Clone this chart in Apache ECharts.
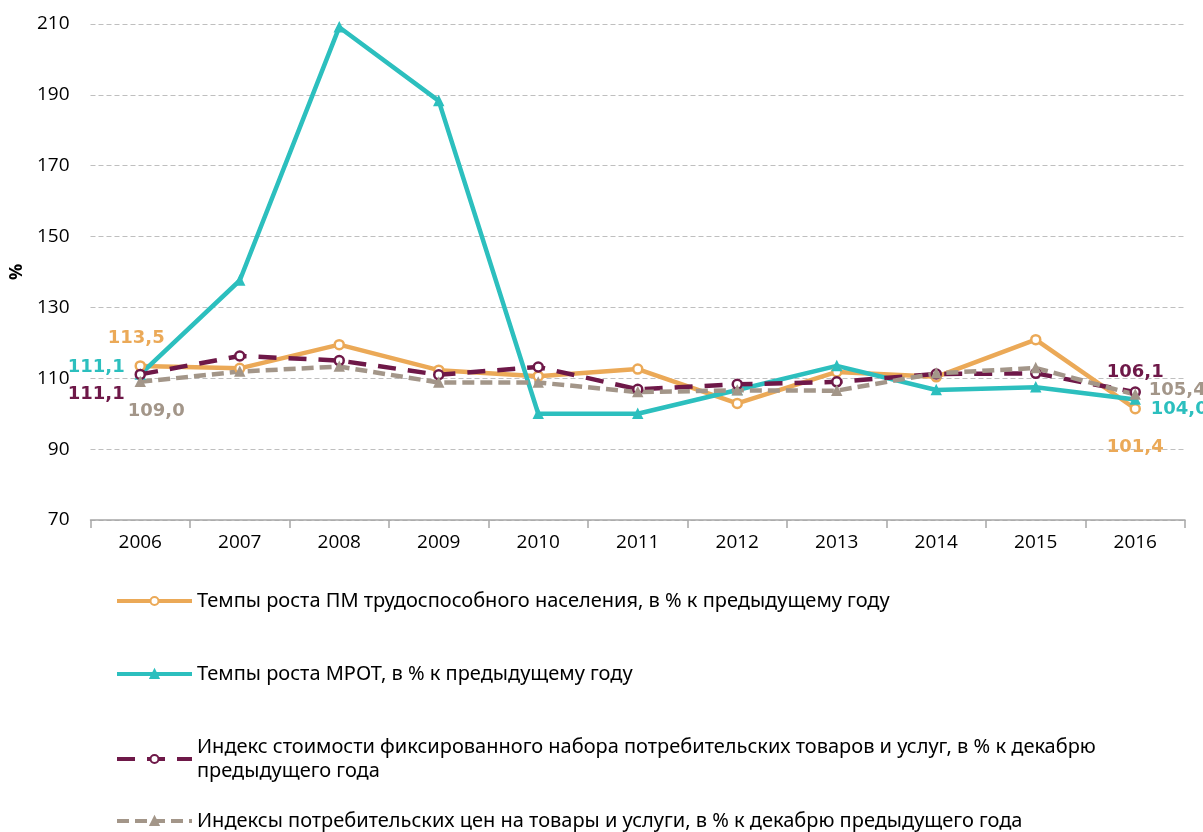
<!DOCTYPE html>
<html>
<head>
<meta charset="utf-8">
<script src="https://cdn.jsdelivr.net/npm/echarts@6/dist/echarts.min.js"></script>
<style>
  html, body { margin: 0; padding: 0; background: #fff; }
  #echarts { width: 1203px; height: 832px; }
</style>
</head>
<body>
<div id="echarts"></div>
<script>
var years = ['2006', '2007', '2008', '2009', '2010', '2011', '2012', '2013', '2014', '2015', '2016'];
var pmGrowth = [113.5, 112.8, 119.5, 112.3, 110.6, 112.6, 102.9, 111.8, 110.4, 120.9, 101.4];
var mrotGrowth = [111.1, 137.6, 209.1, 188.3, 100.0, 100.0, 106.7, 113.5, 106.7, 107.5, 104.0];
var basketIndex = [111.1, 116.3, 115.0, 111.0, 113.2, 106.9, 108.3, 109.0, 111.2, 111.4, 106.1];
var cpiIndex = [109.0, 111.9, 113.3, 108.8, 108.8, 106.1, 106.6, 106.5, 111.4, 112.9, 105.4];
var yTicks = [70, 90, 110, 130, 150, 170, 190, 210];

var names = [
    'Темпы роста ПМ трудоспособного населения, в % к предыдущему году',
    'Темпы роста МРОТ, в % к предыдущему году',
    'Индекс стоимости фиксированного набора потребительских товаров и услуг, в % к декабрю предыдущего года',
    'Индексы потребительских цен на товары и услуги, в % к декабрю предыдущего года'
];
var colors = ['#EBA957', '#2CBFBE', '#6E1848', '#A39689'];

function fmt(p) {
    return p.value.toFixed(1).replace('.', ',');
}

// labels only on first and last point, offsets per series
function withLabels(values, color, firstOffset, lastOffset) {
    return values.map(function (v, i) {
        if (i === 0 || i === values.length - 1) {
            return {
                value: v,
                label: {
                    show: true,
                    position: 'inside',
                    offset: i === 0 ? firstOffset : lastOffset,
                    formatter: fmt,
                    color: color,
                    fontFamily: 'DejaVu Sans',
                    fontWeight: 'bold',
                    fontSize: 18
                }
            };
        }
        return v;
    });
}

var myChart = echarts.init(document.getElementById('echarts'));

function legendAt(idx, top) {
    return {
        orient: 'vertical',
        left: 110,
        top: top,
        data: [names[idx]],
        itemWidth: 75,
        itemHeight: 10,
        itemGap: 4,
        lineStyle: { width: 4 },
        formatter: function (name) {
            if (name === names[2]) {
                return 'Индекс стоимости фиксированного набора потребительских товаров и услуг, в % к декабрю\nпредыдущего года';
            }
            return name;
        },
        textStyle: {
            fontFamily: 'Noto Sans',
            fontSize: 20,
            color: '#000',
            lineHeight: 24
        },
        selectedMode: false
    };
}

var option = {
    animation: false,
    color: colors,
    legend: [
        legendAt(0, 584),
        legendAt(1, 657),
        legendAt(2, 730),
        legendAt(3, 804)
    ],
    grid: {
        left: 88,
        right: 18,
        top: 24,
        bottom: 312
    },
    xAxis: {
        type: 'category',
        data: years,
        boundaryGap: true,
        axisLine: { lineStyle: { color: '#A6A6A6', width: 1.5 } },
        axisTick: { show: true, length: 8, lineStyle: { color: '#A6A6A6', width: 1.5 } },
        axisLabel: {
            color: '#000',
            fontFamily: 'Open Sans',
            fontSize: 19,
            margin: 13
        }
    },
    yAxis: {
        type: 'value',
        min: yTicks[0],
        max: yTicks[yTicks.length - 1],
        interval: 20,
        name: '%',
        nameLocation: 'middle',
        nameRotate: 90,
        nameGap: 64,
        nameTextStyle: { color: '#000', fontFamily: 'Open Sans', fontSize: 18, fontWeight: 'bold' },
        axisLine: { show: false },
        axisTick: { show: false },
        axisLabel: {
            color: '#000',
            fontFamily: 'Open Sans',
            fontSize: 19,
            margin: 21
        },
        splitLine: {
            lineStyle: { color: '#BFBFBF', type: [5, 3], width: 1.2 }
        }
    },
    series: [{
        name: names[0],
        type: 'line',
        data: withLabels(pmGrowth, colors[0], [-4, -28], [0, 39]),
        symbol: 'circle',
        symbolSize: 9,
        itemStyle: { color: '#fff', borderColor: colors[0], borderWidth: 2.5 },
        lineStyle: { color: colors[0], width: 4.5 }
    }, {
        name: names[1],
        type: 'line',
        data: withLabels(mrotGrowth, colors[1], [-44, -7], [44, 10]),
        symbol: 'triangle',
        symbolSize: 9,
        itemStyle: { color: colors[1], borderColor: colors[1], borderWidth: 1.5 },
        lineStyle: { color: colors[1], width: 4.5 }
    }, {
        name: names[2],
        type: 'line',
        data: withLabels(basketIndex, colors[2], [-44, 20], [0, -20]),
        symbol: 'circle',
        symbolSize: 9,
        itemStyle: { color: '#fff', borderColor: colors[2], borderWidth: 2.5 },
        lineStyle: { color: colors[2], width: 4.5, type: [18, 12] }
    }, {
        name: names[3],
        type: 'line',
        data: withLabels(cpiIndex, colors[3], [16, 29], [42, -4]),
        symbol: 'triangle',
        symbolSize: 9,
        itemStyle: { color: colors[3], borderColor: colors[3], borderWidth: 1.5 },
        lineStyle: { color: colors[3], width: 4.5, type: [12, 6] }
    }]
};
myChart.setOption(option);
</script>
</body>
</html>
